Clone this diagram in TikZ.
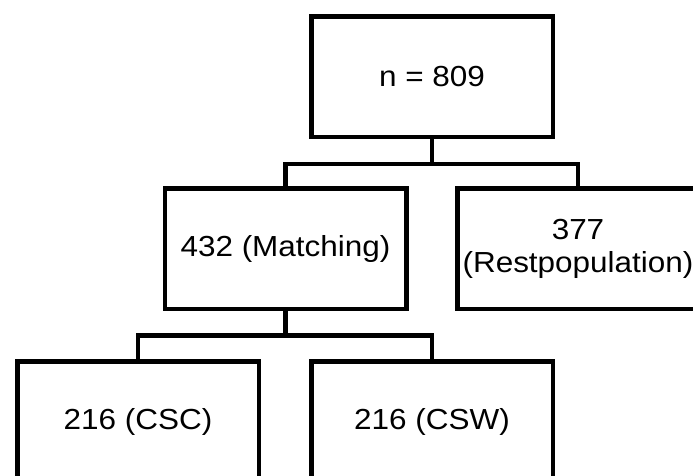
\documentclass[tikz,border=0pt]{standalone}
\usepackage{fontspec}
\setmainfont{Liberation Sans}[FakeStretch=1.085]
\begin{document}
\begin{tikzpicture}[x=1pt,y=-1pt,
  box/.style={draw=black,line width=4.5pt,rectangle,minimum width=241.5pt,minimum height=120.5pt,inner sep=0pt,align=center,font=\fontsize{29}{33}\selectfont},
  conn/.style={draw=black,line width=4.5pt}]
\useasboundingbox (0,0) rectangle (693,475);
\clip (0,0) rectangle (693,475);
\node[box] (top) at (432,76.5) {n = 809};
\node[box] (match) at (285.5,248.5) {432 (Matching)};
\node[box] (rest) at (578,248.5) {377\\(Restpopulation)};
\node[box] (csc) at (138,421.5) {216 (CSC)};
\node[box] (csw) at (432,421.5) {216 (CSW)};
\coordinate (b1) at (432,164);
\coordinate (b2) at (285.5,335.5);
\draw[conn] (top.south) -- (b1) -| (match.north);
\draw[conn] (b1) -| (rest.north);
\draw[conn] (match.south) -- (b2) -| (csc.north);
\draw[conn] (b2) -| (csw.north);
\end{tikzpicture}
\end{document}
